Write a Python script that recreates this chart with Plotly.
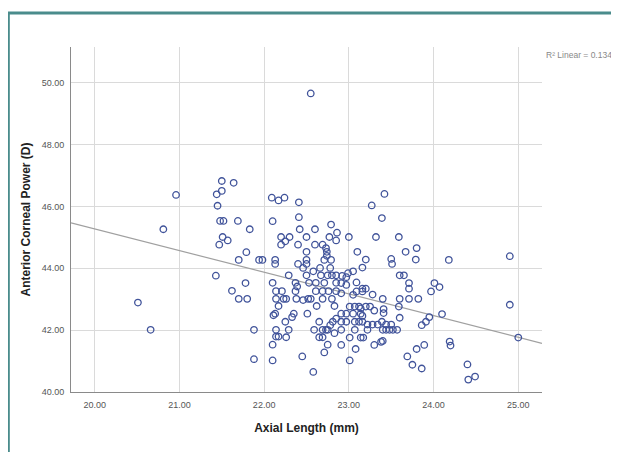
import plotly.graph_objects as go

# Axial length (mm) and anterior corneal power (D)
axial_length = [
    20.96, 20.81, 20.51, 20.66,
    21.50, 21.64, 21.44, 21.50, 21.45, 21.48, 21.52, 21.69, 21.83, 21.51, 21.57, 21.47,
    21.79, 21.70, 21.94, 21.98, 21.43, 21.78, 21.62, 21.70, 21.80, 21.88, 21.88,
    22.09, 22.17, 22.24, 22.41, 22.10, 22.41, 22.42, 22.60, 22.79, 22.86, 22.20, 22.30,
    22.25, 22.20, 22.50, 22.77, 22.85, 22.40, 22.60, 22.69, 22.73, 22.74, 22.50, 22.74,
    22.13, 22.13, 22.50, 22.40, 22.71, 22.79, 22.50, 22.46, 22.58, 22.66, 22.78, 22.29,
    22.50, 22.67, 22.75, 22.80, 22.85, 22.10, 22.37, 22.53, 22.61, 22.71, 22.85, 22.39,
    22.14, 22.21, 22.37, 22.61, 22.69, 22.76, 22.85,
    22.14, 22.23, 22.26, 22.38, 22.46, 22.52, 22.55, 22.69, 22.80,
    22.62, 22.83, 22.17, 22.35, 22.33, 22.13, 22.11, 22.51,
    22.25, 22.65, 22.81, 22.85, 22.78,
    22.14, 22.29, 22.59, 22.69, 22.73, 22.75, 22.83,
    22.14, 22.17, 22.26, 22.65, 22.69,
    22.10, 22.75, 22.71, 22.45, 22.10, 22.58,
    23.42, 23.27, 23.39, 23.00, 23.32, 23.59, 23.80, 23.67, 23.10, 23.20, 23.50, 23.51,
    23.79, 23.16, 23.05, 22.99, 22.92, 22.97, 23.60, 23.65, 23.09, 22.91, 22.97, 23.71,
    24.01, 23.16, 23.20, 23.71,
    22.91, 23.05, 23.09, 23.16, 23.28, 23.40, 23.60, 23.71, 23.82, 23.97,
    23.01, 23.07, 23.12, 23.14, 23.20, 23.25, 23.30, 23.41, 23.41, 23.59, 23.60,
    22.91, 22.97, 23.05, 23.14, 23.16,
    22.91, 22.97, 23.07, 23.12, 23.16, 23.22, 23.28, 23.34, 23.39, 23.44, 23.50,
    22.91, 23.07, 23.22, 23.40, 23.44, 23.48, 23.52, 23.57,
    23.86, 23.91, 23.95,
    23.01, 23.14, 23.17, 22.91, 23.08, 23.30, 23.38, 23.40, 23.80, 23.89, 23.01, 23.69,
    23.75, 23.86,
    24.18, 24.90, 24.07, 24.10, 25.00, 24.90, 24.19, 24.20, 24.40, 24.41, 24.49,
    22.55,
]
corneal_power = [
    46.37, 45.26, 42.89, 42.01,
    46.82, 46.76, 46.39, 46.50, 46.02, 45.53, 45.53, 45.53, 45.26, 45.01, 44.90, 44.76,
    44.52, 44.27, 44.27, 44.27, 43.76, 43.52, 43.27, 43.01, 43.01, 42.01, 41.06,
    46.28, 46.19, 46.28, 46.13, 45.52, 45.65, 45.26, 45.26, 45.41, 45.15, 45.01, 45.01,
    44.87, 44.76, 45.01, 45.01, 44.90, 44.76, 44.76, 44.76, 44.65, 44.53, 44.53, 44.40,
    44.27, 44.14, 44.27, 44.14, 44.27, 44.27, 44.14, 44.01, 43.90, 44.01, 44.01, 43.77,
    43.77, 43.77, 43.77, 43.77, 43.77, 43.53, 43.53, 43.53, 43.53, 43.53, 43.53, 43.41,
    43.26, 43.26, 43.26, 43.26, 43.26, 43.26, 43.26,
    43.01, 43.01, 43.01, 43.01, 42.97, 43.01, 43.01, 43.01, 43.01,
    42.78, 42.78, 42.78, 42.53, 42.42, 42.53, 42.48, 42.53,
    42.27, 42.27, 42.27, 42.37, 42.16,
    42.01, 42.01, 42.01, 42.01, 42.01, 42.01, 41.90,
    41.79, 41.79, 41.77, 41.77, 41.77,
    41.53, 41.53, 41.28, 41.15, 41.02, 40.65,
    46.40, 46.03, 45.62, 45.01, 45.01, 45.01, 44.65, 44.53, 44.53, 44.28, 44.30, 44.14,
    44.28, 44.02, 43.90, 43.84, 43.75, 43.71, 43.77, 43.77, 43.54, 43.52, 43.46, 43.52,
    43.52, 43.34, 43.34, 43.34,
    43.19, 43.14, 43.25, 43.25, 43.15, 43.01, 43.01, 43.01, 43.01, 43.25,
    42.76, 42.76, 42.76, 42.70, 42.76, 42.76, 42.63, 42.68, 42.55, 42.76, 42.40,
    42.53, 42.53, 42.53, 42.53, 42.46,
    42.27, 42.27, 42.27, 42.27, 42.27, 42.18, 42.18, 42.18, 42.27, 42.18, 42.18,
    42.01, 42.01, 42.01, 42.01, 42.01, 42.01, 42.01, 42.01,
    42.16, 42.27, 42.42,
    41.76, 41.76, 41.76, 41.52, 41.39, 41.52, 41.62, 41.65, 41.39, 41.52, 41.02, 41.15,
    40.88, 40.76,
    44.27, 44.39, 43.39, 42.52, 41.76, 42.82, 41.63, 41.50, 40.89, 40.40, 40.50,
    49.65,
]

# Linear fit shown on the chart
fit_slope = -0.70
fit_intercept = 59.27
r2_label = "R² Linear = 0.134"

x_range = [19.72, 25.28]
y_range = [40.0, 51.15]
x_ticks = [20, 21, 22, 23, 24, 25]
y_ticks = [40, 42, 44, 46, 48, 50]

fit_x = x_range
fit_y = [fit_intercept + fit_slope * v for v in fit_x]

fig = go.Figure()
fig.add_trace(go.Scatter(
    x=fit_x, y=fit_y, mode="lines",
    line=dict(color="#a0a0a0", width=1.2),
    hoverinfo="skip", showlegend=False,
))
fig.add_trace(go.Scatter(
    x=axial_length, y=corneal_power, mode="markers",
    marker=dict(symbol="circle-open", size=6.5, color="#40539a",
                line=dict(width=1.3, color="#40539a")),
    showlegend=False,
))

axis_common = dict(
    showgrid=True, gridcolor="#dadada", gridwidth=1,
    showline=True, linecolor="#8a8a8a", linewidth=1,
    zeroline=False, ticks="", tickformat=".2f", automargin=False,
    tickfont=dict(family="Liberation Sans", size=9, color="#555555"),
)

fig.update_xaxes(range=x_range, tickvals=x_ticks, ticklabelstandoff=4,
                 title=dict(text="<b>Axial Length (mm)</b>", standoff=14,
                            font=dict(family="Liberation Sans", size=12, color="#222222")),
                 **axis_common)
fig.update_yaxes(range=y_range, tickvals=y_ticks, ticklabelstandoff=4,
                 title=dict(text="<b>Anterior Corneal Power (D)</b>", standoff=8,
                            font=dict(family="Liberation Sans", size=12, color="#222222")),
                 **axis_common)

# The page places the figure 8px in from the top-left corner of the window.
fig.update_layout(
    width=611, height=444,
    margin=dict(l=63, r=77, t=39, b=60, autoexpand=False),
    plot_bgcolor="white", paper_bgcolor="white",
    showlegend=False,
    annotations=[dict(
        text=r2_label, xref="paper", yref="paper", x=1.004, y=0.977,
        xanchor="left", yanchor="middle", showarrow=False,
        font=dict(family="Liberation Sans", size=8.5, color="#888888"),
    )],
    shapes=[dict(
        type="path", xref="paper", yref="paper",
        path="M -0.1331,-0.3 L -0.1331,1.0986 L 1.3,1.0986",
        line=dict(color="#4a8c8c", width=3),
    )],
)

fig.write_html("out.html")
